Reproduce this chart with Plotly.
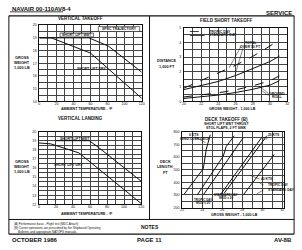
import plotly.graph_objects as go

W, H = 302, 250

# ---------------- data ----------------
# Vertical takeoff (ambient temp F vs gross weight 1000 lb)
vto_temp_wet = [0, 58, 81, 120]
vto_gw_wet = [19.0, 19.0, 18.35, 16.3]
vto_temp_dry = [0, 14, 60, 120]
vto_gw_dry = [19.0, 19.0, 17.8, 14.25]

# Field short takeoff (gross weight vs distance 1000 ft)
fsto_gw = [20, 22, 24, 26, 28, 30, 31.1]
fsto_total_tropic = [0.9, 1.4, 1.9, 2.45, 3.05, 3.75, 4.2]
fsto_total_std = [0.8, 1.05, 1.35, 1.75, 2.2, 2.7, 3.07]
fsto_roll_tropic = [0.3, 0.42, 0.58, 0.78, 1.05, 1.4, 1.73]
fsto_roll_std = [0.2, 0.3, 0.43, 0.6, 0.82, 1.1, 1.4]

# Vertical landing
vl_temp_wet = [20, 59, 68, 120]
vl_gw_wet = [19.0, 19.0, 18.4, 14.55]
vl_temp_dry = [0, 14, 47, 120]
vl_gw_dry = [18.75, 18.65, 17.66, 12.1]

# Deck takeoff (gross weight vs deck length ft)
dto_c1_x = [22.2, 24.1, 24.4, 24.8]
dto_c1_y = [307, 507, 660, 775]
dto_c2_x = [23.5, 26.1, 26.4, 27.2]
dto_c2_y = [300, 606, 683, 767]
dto_c3_x = [24.1, 28.1]
dto_c3_y = [300, 752]
dto_c4_x = [25.8, 30.0]
dto_c4_y = [300, 760]
dto_c5_x = [26.2, 30.4]
dto_c5_y = [315, 760]
dto_c6_x = [28.1, 31.2]
dto_c6_y = [300, 620]

# ---------------- helpers ----------------
def fx(p):
    return p / W

def fy(p):
    return 1 - p / H

FONT = "Liberation Sans"
fig = go.Figure()

def line(x, y, ax, dash="solid", w=1.0):
    fig.add_trace(go.Scatter(x=x, y=y, mode="lines", xaxis=ax[0], yaxis=ax[1],
                             line=dict(color="#111", width=w, dash=dash),
                             showlegend=False, hoverinfo="skip"))

line(vto_temp_wet, vto_gw_wet, ("x", "y"))
line(vto_temp_dry, vto_gw_dry, ("x", "y"))
line(fsto_gw, fsto_total_tropic, ("x2", "y2"), dash="dash")
line(fsto_gw, fsto_total_std, ("x2", "y2"))
line(fsto_gw, fsto_roll_tropic, ("x2", "y2"), dash="dash")
line(fsto_gw, fsto_roll_std, ("x2", "y2"))
line(vl_temp_wet, vl_gw_wet, ("x3", "y3"))
line(vl_temp_dry, vl_gw_dry, ("x3", "y3"))
for xs, ys in [(dto_c1_x, dto_c1_y), (dto_c2_x, dto_c2_y), (dto_c3_x, dto_c3_y),
               (dto_c4_x, dto_c4_y), (dto_c5_x, dto_c5_y), (dto_c6_x, dto_c6_y)]:
    line(xs, ys, ("x4", "y4"))

def axis(dom, rng, dtick, minor, anchor, standoff):
    return dict(domain=dom, range=rng, dtick=dtick, tick0=rng[0], anchor=anchor,
                showline=True, mirror=True, linecolor="#111", linewidth=1,
                showgrid=True, gridcolor="#444", gridwidth=0.5,
                minor=dict(dtick=minor, showgrid=True, gridcolor="#444", gridwidth=0.5),
                ticks="", zeroline=False, ticklabelstandoff=standoff,
                tickfont=dict(size=3.6, family=FONT, color="#111"))

lay = dict(
    width=W, height=H, margin=dict(l=0, r=0, t=0, b=0),
    paper_bgcolor="white", plot_bgcolor="white", showlegend=False,
    xaxis=axis([fx(38), fx(142)], [0, 120], 20, 10, "y", -2),
    yaxis=axis([fy(101), fy(23.5)], [14, 20], 1, 0.5, "x", 1),
    xaxis2=axis([fx(185), fx(290)], [20, 32], 2, 1, "y2", -2),
    yaxis2=axis([fy(101), fy(26)], [0, 5], 1, 0.5, "x2", 1),
    xaxis3=axis([fx(37.5), fx(141.5)], [0, 120], 20, 10, "y3", -2),
    yaxis3=axis([fy(205.7), fy(131.7)], [12, 20], 1, 0.5, "x3", 1),
    xaxis4=axis([fx(183.3), fx(287)], [22, 32.2], 2, 1, "y4", -2),
    yaxis4=axis([fy(209), fy(131.7)], [200, 800], 100, 50, "x4", 1),
)
fig.update_layout(**lay)

anns = []
def txt(x, y, s, size=4, bold=True, xa="center"):
    anns.append(dict(x=fx(x), y=fy(y), xref="paper", yref="paper", text=("<b>%s</b>" % s) if bold else s,
                     showarrow=False, xanchor=xa, yanchor="middle",
                     font=dict(size=size, family=FONT, color="#111")))

txt(8, 7, "NAVAIR 00-110AV8-4", 6, True, "left")
txt(297, 11, "SERVICE", 6, True, "right")
txt(80, 17, "VERTICAL TAKEOFF", 4.5)
txt(228, 18.5, "FIELD SHORT TAKEOFF", 4.5)
txt(80, 118, "VERTICAL LANDING", 4.5)
txt(228, 119, "DECK TAKEOFF (B)", 4.5)
txt(228, 124, "SHORT LIFT WET THRUST", 3.5)
txt(228, 128, "STOL FLAPS, 2 FT SINK", 3.5)
# axis titles
txt(20, 57, "GROSS", 3.8); txt(20, 62, "WEIGHT", 3.8); txt(20, 67, "1,000 LB", 3.8)
txt(20, 163, "GROSS", 3.8); txt(20, 168, "WEIGHT", 3.8); txt(20, 173, "1,000 LB", 3.8)
txt(168, 60, "DISTANCE", 3.8); txt(168, 66, "1,000 FT", 3.8)
txt(166, 163, "DECK", 3.8); txt(166, 168, "LENGTH", 3.8); txt(166, 174, "FT", 3.8)
txt(86, 108.5, "AMBIENT TEMPERATURE - °F", 3.6)
txt(234, 108.5, "GROSS WEIGHT - 1,000 LB", 3.6)
txt(86, 215.5, "AMBIENT TEMPERATURE - °F", 3.6)
txt(236, 216.5, "GROSS WEIGHT - 1,000 LB", 3.6)
# chart labels
txt(76, 33.5, "SHORT LIFT WET", 3.5)
txt(119, 27.5, "SPEC TRAJECTORY", 3.5)
txt(92, 68, "SHORT LIFT DRY", 3.5)
txt(74, 139, "SHORT LIFT WET", 3.5)
txt(68, 166, "SHORT LIFT DRY", 3.5)
txt(208, 30, "TROPIC DAY", 3.5, True, "left")
txt(208, 34, "STANDARD DAY", 3.5, True, "left")
txt(253, 42, "TOTAL", 3.5); txt(253, 46, "OVER 50 FT", 3.5)
txt(280, 93, "GROUND", 3.5); txt(280, 97, "ROLL", 3.5)
txt(195, 135, "0 KTS", 3.3)
txt(196, 139.5, "WIND-OVER-DECK", 3.3)
txt(277, 135, "20 KTS", 3.3)
txt(269, 180, "40 KTS", 3.3)
txt(268, 186, "TROPIC DAY", 3.3, True, "left")
txt(268, 191, "STANDARD DAY", 3.3, True, "left")
txt(204, 201, "TROPIC DAY", 3.0); txt(204, 204.5, "WOD = 20", 3.0)
txt(228, 196, "STANDARD DAY", 3.0); txt(228, 199.5, "WOD = 20", 3.0)
# notes
txt(150, 229, "NOTES", 5)
txt(10, 226, "(A) Performance basis - Flight test (MDC Attach)", 3.0, False, "left")
txt(10, 230, "(B) Carrier operations are prescribed by the Shipboard Operating", 3.0, False, "left")
txt(14, 233.5, "Bulletins and appropriate NATOPS manuals.", 3.0, False, "left")
txt(8, 242, "OCTOBER 1986", 6, True, "left")
txt(150, 242, "PAGE 11", 6)
txt(297, 242, "AV-8B", 6, True, "right")
fig.update_layout(annotations=anns)

shapes = []
def seg(x0, y0, x1, y1, w=1.0, dash="solid"):
    shapes.append(dict(type="line", xref="paper", yref="paper", x0=fx(x0), y0=fy(y0),
                       x1=fx(x1), y1=fy(y1), line=dict(color="#111", width=w, dash=dash)))

seg(7, 14, 297, 14, 1.2)
seg(7, 14, 7, 236, 1)
seg(297, 14, 297, 236, 1)
seg(7, 236, 297, 236, 1.2)
seg(150, 14, 150, 221, 1)
seg(7, 221, 297, 221, 1)
seg(8, 10, 62, 10, 0.8)
# label boxes
def box(x0, y0, x1, y1):
    shapes.append(dict(type="rect", xref="paper", yref="paper", x0=fx(x0), y0=fy(y0),
                       x1=fx(x1), y1=fy(y1), line=dict(color="#111", width=0.6), fillcolor="white"))
box(98, 25, 140, 30)
box(59, 31.5, 93, 35.5)
# legend samples
seg(191, 30, 206, 30, 0.8, "dash")
seg(191, 34, 206, 34, 0.8)
# leader lines
seg(243, 45, 231, 67, 0.5)
seg(245, 47, 237, 74, 0.5)
seg(271, 93, 261, 85, 0.5)
seg(271, 95, 264, 90, 0.5)
seg(270, 136, 265, 139, 0.5)
seg(271, 137, 268, 140, 0.5)
seg(262, 180, 252, 176, 0.5)
seg(266, 186, 262, 184, 0.5)
seg(266, 191, 259, 195, 0.5)
seg(196, 137, 207, 143, 0.5)
fig.update_layout(shapes=shapes)

fig.write_html("out.html")
